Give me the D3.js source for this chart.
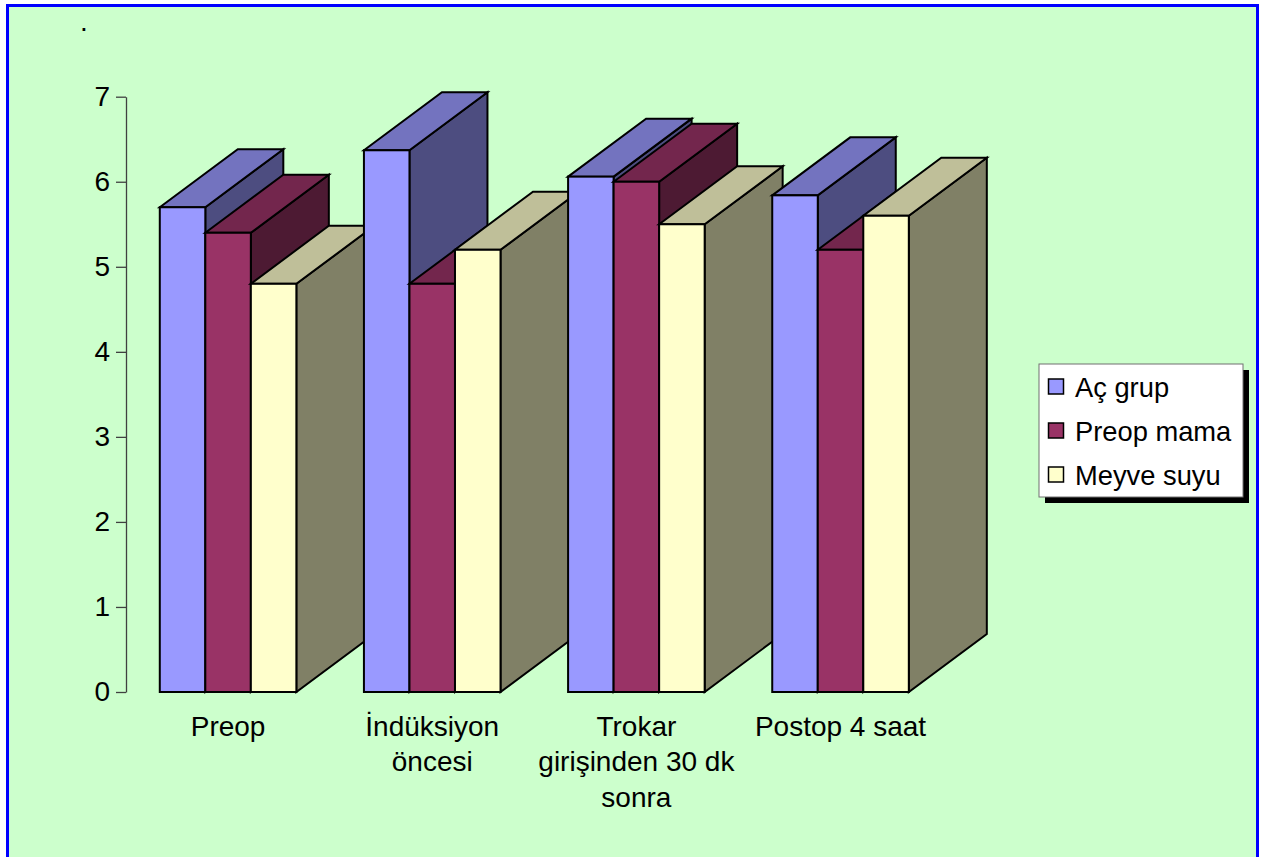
<!DOCTYPE html>
<html>
<head>
<meta charset="utf-8">
<script src="https://d3js.org/d3.v7.min.js"></script>
<style>
  html, body { margin: 0; padding: 0; background: #ffffff; }
  svg { display: block; }
  text { font-family: Arial, "Liberation Sans", sans-serif; fill: #000; }
</style>
</head>
<body>
<script>
// Categories (x axis) — line breaks mark where each label wraps
const categories = ["Preop", "İndüksiyon\nöncesi", "Trokar\ngirişinden 30 dk\nsonra", "Postop 4 saat"];
// Series names
const series = ["Aç grup", "Preop mama", "Meyve suyu"];
// Values per series, in category order
const acGrup     = [5.70, 6.37, 6.06, 5.84];
const preopMama  = [5.40, 4.80, 6.00, 5.20];
const meyveSuyu  = [4.80, 5.20, 5.50, 5.60];
// Y axis ticks
const yTicks = [0, 1, 2, 3, 4, 5, 6, 7];

const seriesValues = [acGrup, preopMama, meyveSuyu];
const frontColors = ["#9999FF", "#993366", "#FFFFCC"];

const W = 1262, H = 857;
const FS = 28;
const svg = d3.select("body").append("svg").attr("width", W).attr("height", H);

// chart area with blue frame
svg.append("rect")
  .attr("x", 7.5).attr("y", 5.5)
  .attr("width", 1250).attr("height", 880)
  .attr("fill", "#CCFFCC")
  .attr("stroke", "#0000FF")
  .attr("stroke-width", 3);

// small title mark
svg.append("text").attr("x", 80).attr("y", 31).attr("font-size", FS).text(".");

const y = d3.scaleLinear().domain([0, 7]).range([692, 96.7]);
const x0 = d3.scaleBand().domain(categories).range([126, 942.6])
  .paddingInner(0.331).paddingOuter(0.1655);
const x1 = d3.scaleBand().domain(series).range([0, x0.bandwidth()]);

// depth of the 3D boxes
const dx = 78, dy = 58;

// shading for top and side faces
function shade(c, k) {
  const r = d3.rgb(c);
  return d3.rgb(r.r * k, r.g * k, r.b * k).formatHex();
}

const bars = svg.append("g");
const y0 = y(0);
categories.forEach((cat, ci) => {
  series.forEach((s, si) => {
    const v = seriesValues[si][ci];
    const xl = x0(cat) + x1(s);
    const w = x1.bandwidth();
    const yt = y(v);
    const col = frontColors[si];
    const g = bars.append("g")
      .attr("stroke", "#000").attr("stroke-width", 2).attr("stroke-linejoin", "miter");
    // right side face
    g.append("polygon")
      .attr("points", [[xl + w, yt], [xl + w + dx, yt - dy], [xl + w + dx, y0 - dy], [xl + w, y0]].join(" "))
      .attr("fill", shade(col, 0.5));
    // top face
    g.append("polygon")
      .attr("points", [[xl, yt], [xl + dx, yt - dy], [xl + w + dx, yt - dy], [xl + w, yt]].join(" "))
      .attr("fill", shade(col, 0.75));
    // front face
    g.append("rect")
      .attr("x", xl).attr("y", yt).attr("width", w).attr("height", y0 - yt)
      .attr("fill", col);
  });
});

// value axis
const yAxis = d3.axisLeft(y).tickValues(yTicks).tickFormat(d3.format("d"))
  .tickSize(10).tickSizeOuter(0).tickPadding(6);
const ga = svg.append("g").attr("transform", "translate(126,0)").call(yAxis);
ga.select(".domain").attr("stroke", "#404040").attr("stroke-width", 1.3);
ga.selectAll(".tick line").attr("stroke", "#404040").attr("stroke-width", 1.3);
ga.selectAll(".tick text")
  .attr("font-size", FS).attr("font-family", "Arial, 'Liberation Sans', sans-serif")
  .attr("fill", "#000");

// category labels
const lab = svg.append("g").attr("font-size", FS).attr("text-anchor", "middle");
categories.forEach(cat => {
  const cx = x0(cat) + x0.bandwidth() / 2;
  const t = lab.append("text").attr("x", cx).attr("y", 736);
  cat.split("\n").forEach((line, i) => {
    t.append("tspan").attr("x", cx).attr("y", 736 + i * 35.3).text(line);
  });
});

// legend
const lg = svg.append("g");
lg.append("rect").attr("x", 1045).attr("y", 370).attr("width", 204).attr("height", 133).attr("fill", "#000");
lg.append("rect").attr("x", 1039).attr("y", 364).attr("width", 204).attr("height", 133)
  .attr("fill", "#fff").attr("stroke", "#707070").attr("stroke-width", 1);
series.forEach((s, i) => {
  const by = 396.5 + i * 44;
  lg.append("rect").attr("x", 1048.5).attr("y", by - 17.5).attr("width", 15).attr("height", 15)
    .attr("fill", frontColors[i]).attr("stroke", "#000").attr("stroke-width", 1.5);
  lg.append("text").attr("x", 1075).attr("y", by).attr("font-size", 27.3).text(s);
});
</script>
</body>
</html>
